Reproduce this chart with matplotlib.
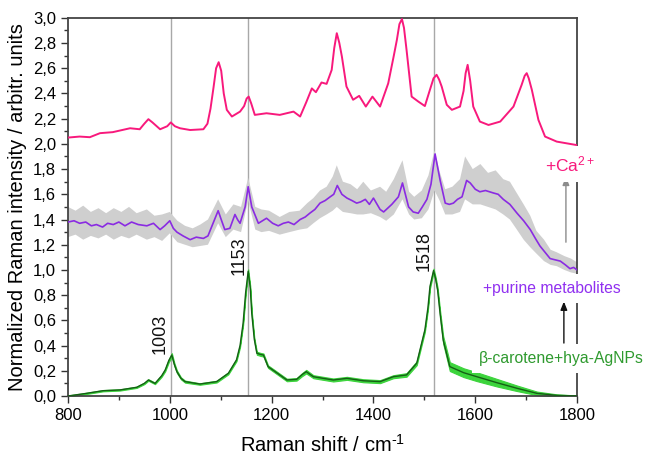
import matplotlib
matplotlib.use("Agg")
import matplotlib.pyplot as plt
from matplotlib.ticker import MultipleLocator, FuncFormatter
import numpy as np

# pink spectrum (+Ca2+)
ca_x = [800, 823, 843, 863, 888, 922, 941, 950, 958, 966, 981, 995, 1002, 1010, 1020,
        1040, 1066, 1074, 1080, 1086, 1091, 1096, 1101, 1106, 1112, 1122, 1138, 1146,
        1151, 1155, 1160, 1167, 1190, 1216, 1243, 1256, 1268, 1279, 1287, 1298, 1308,
        1318, 1323, 1328, 1333, 1338, 1347, 1360, 1372, 1385, 1398, 1413, 1429, 1440,
        1446, 1451, 1456, 1460, 1465, 1475, 1488, 1501, 1511, 1518, 1524, 1529, 1534,
        1544, 1554, 1570, 1577, 1581, 1585, 1590, 1596, 1609, 1626, 1649, 1675, 1691,
        1697, 1701, 1705, 1711, 1724, 1737, 1760, 1800]
ca_y = [2.05, 2.058, 2.053, 2.085, 2.093, 2.124, 2.116, 2.16, 2.196, 2.17, 2.116, 2.14,
        2.17, 2.14, 2.124, 2.11, 2.116, 2.16, 2.28, 2.45, 2.60, 2.648, 2.58, 2.40, 2.27,
        2.217, 2.256, 2.30, 2.36, 2.375, 2.32, 2.23, 2.243, 2.23, 2.256, 2.217, 2.33,
        2.44, 2.41, 2.487, 2.476, 2.587, 2.76, 2.878, 2.80, 2.693, 2.455, 2.35, 2.381,
        2.296, 2.375, 2.296, 2.48, 2.70, 2.825, 2.95, 2.99, 2.92, 2.746, 2.375, 2.336,
        2.30, 2.43, 2.52, 2.548, 2.51, 2.455, 2.31, 2.27, 2.296, 2.42, 2.56, 2.627, 2.50,
        2.296, 2.177, 2.15, 2.177, 2.296, 2.468, 2.54, 2.561, 2.52, 2.43, 2.19, 2.058,
        2.018, 1.99]

# purple spectrum (+purine metabolites), mean and spread
pur_x = [800, 812, 823, 835, 846, 856, 868, 878, 889, 900, 912, 925, 938, 955, 968, 981,
         990, 1000, 1007, 1014, 1026, 1040, 1052, 1066, 1075, 1082, 1095, 1101, 1108,
         1118, 1128, 1133, 1138, 1148, 1154, 1161, 1174, 1182, 1190, 1202, 1213, 1223,
         1233, 1244, 1256, 1266, 1275, 1285, 1295, 1305, 1315, 1322, 1329, 1338, 1348,
         1358, 1367, 1375, 1384, 1392, 1400, 1413, 1420, 1436, 1449, 1457, 1469, 1478,
         1488, 1496, 1505, 1513, 1521, 1531, 1541, 1549, 1557, 1565, 1574, 1583, 1590,
         1600, 1609, 1620, 1636, 1645, 1655, 1668, 1682, 1695, 1708, 1718, 1727, 1737,
         1747, 1757, 1767, 1777, 1786, 1793, 1800]
pur_y = [1.38, 1.39, 1.37, 1.38, 1.35, 1.36, 1.34, 1.37, 1.36, 1.38, 1.35, 1.38, 1.36,
         1.35, 1.37, 1.32, 1.35, 1.39, 1.33, 1.30, 1.27, 1.24, 1.26, 1.25, 1.27, 1.34,
         1.47, 1.40, 1.32, 1.33, 1.44, 1.40, 1.37, 1.50, 1.66, 1.50, 1.37, 1.39, 1.41,
         1.37, 1.35, 1.37, 1.38, 1.36, 1.40, 1.42, 1.45, 1.48, 1.53, 1.55, 1.58, 1.60,
         1.67, 1.60, 1.57, 1.55, 1.53, 1.54, 1.56, 1.52, 1.57, 1.48, 1.46, 1.52, 1.58,
         1.69, 1.50, 1.46, 1.45, 1.50, 1.56, 1.68, 1.92, 1.71, 1.53, 1.52, 1.53, 1.56,
         1.58, 1.71, 1.69, 1.64, 1.62, 1.63, 1.61, 1.60, 1.56, 1.52, 1.45, 1.39, 1.32,
         1.25, 1.19, 1.14, 1.09, 1.08, 1.07, 1.04, 1.01, 1.02, 1.00]
pur_band_x = [800, 815, 830, 845, 860, 875, 890, 905, 920, 935, 955, 970, 985, 1000,
              1015, 1030, 1045, 1060, 1075, 1095, 1110, 1125, 1140, 1154, 1168, 1180,
              1195, 1216, 1235, 1255, 1270, 1282, 1295, 1308, 1320, 1328, 1340, 1355,
              1368, 1380, 1395, 1413, 1425, 1440, 1457, 1470, 1480, 1495, 1508, 1520,
              1530, 1541, 1555, 1570, 1580, 1595, 1610, 1625, 1640, 1655, 1668, 1680,
              1695, 1708, 1720, 1735, 1748, 1760, 1775, 1788, 1800]
pur_hi = [1.50, 1.47, 1.51, 1.46, 1.49, 1.45, 1.49, 1.46, 1.50, 1.45, 1.48, 1.43, 1.44,
          1.46, 1.39, 1.35, 1.33, 1.36, 1.40, 1.56, 1.44, 1.52, 1.50, 1.73, 1.50, 1.48,
          1.47, 1.42, 1.46, 1.47, 1.53, 1.57, 1.63, 1.66, 1.74, 1.83, 1.70, 1.68, 1.64,
          1.70, 1.63, 1.66, 1.62, 1.72, 1.87, 1.62, 1.58, 1.63, 1.75, 1.95, 1.78, 1.64,
          1.66, 1.72, 1.90, 1.80, 1.84, 1.77, 1.79, 1.72, 1.70, 1.62, 1.52, 1.43, 1.31,
          1.24, 1.16, 1.14, 1.11, 1.09, 1.06]
pur_lo = [1.26, 1.28, 1.24, 1.27, 1.25, 1.28, 1.24, 1.27, 1.25, 1.28, 1.24, 1.26, 1.23,
          1.29, 1.22, 1.20, 1.18, 1.19, 1.20, 1.37, 1.26, 1.32, 1.30, 1.55, 1.32, 1.30,
          1.31, 1.28, 1.30, 1.32, 1.33, 1.37, 1.41, 1.44, 1.47, 1.50, 1.46, 1.45, 1.44,
          1.44, 1.45, 1.42, 1.39, 1.44, 1.56, 1.44, 1.40, 1.41, 1.48, 1.63, 1.55, 1.44,
          1.44, 1.46, 1.56, 1.52, 1.52, 1.50, 1.48, 1.44, 1.40, 1.33, 1.24, 1.18, 1.13,
          1.07, 1.04, 1.03, 1.00, 0.98, 0.97]

# green spectrum (beta-carotene + hya-AgNPs), mean and half spread
bc_x = [800, 835, 869, 902, 935, 950, 958, 971, 984, 991, 998, 1004, 1009, 1014, 1022,
        1030, 1059, 1092, 1115, 1131, 1138, 1144, 1149, 1154, 1158, 1161, 1166, 1171,
        1178, 1184, 1193, 1207, 1230, 1249, 1260, 1268, 1282, 1321, 1348, 1380, 1413,
        1439, 1465, 1485, 1501, 1507, 1511, 1518, 1522, 1526, 1531, 1537, 1550, 1577,
        1603, 1642, 1682, 1721, 1760, 1800]
bc_y = [0.0, 0.02, 0.042, 0.048, 0.069, 0.10, 0.127, 0.10, 0.16, 0.206, 0.28, 0.325,
        0.25, 0.193, 0.14, 0.114, 0.095, 0.114, 0.18, 0.286, 0.40, 0.577, 0.82, 0.99,
        0.86, 0.656, 0.45, 0.339, 0.33, 0.325, 0.233, 0.193, 0.127, 0.132, 0.17, 0.193,
        0.153, 0.127, 0.14, 0.121, 0.114, 0.153, 0.167, 0.26, 0.524, 0.70, 0.868, 0.995,
        0.93, 0.841, 0.65, 0.444, 0.233, 0.185, 0.153, 0.106, 0.061, 0.021, 0.005, 0.0]
bc_err = [0.004, 0.005, 0.005, 0.005, 0.005, 0.006, 0.006, 0.006, 0.008, 0.01, 0.012,
          0.015, 0.012, 0.01, 0.008, 0.008, 0.006, 0.007, 0.008, 0.01, 0.012, 0.015,
          0.015, 0.015, 0.015, 0.015, 0.012, 0.012, 0.012, 0.012, 0.01, 0.01, 0.01,
          0.01, 0.012, 0.014, 0.012, 0.012, 0.012, 0.012, 0.012, 0.012, 0.014, 0.015,
          0.015, 0.015, 0.015, 0.015, 0.015, 0.018, 0.022, 0.03, 0.035, 0.035, 0.035,
          0.03, 0.022, 0.014, 0.008, 0.004]

# marked bands
peaks = [1003, 1153, 1518]
peak_labels = ["1003", "1153", "1518"]
label_pos = [(982, 0.49), (1137, 1.11), (1500, 1.15)]

plt.rcParams["font.family"] = ["Liberation Sans", "DejaVu Sans"]
plt.rcParams["mathtext.fontset"] = "custom"
plt.rcParams["mathtext.rm"] = "Liberation Sans"
plt.rcParams["mathtext.it"] = "Liberation Sans:italic"
plt.rcParams["mathtext.default"] = "regular"

fig = plt.figure(figsize=(6.47, 4.57), dpi=100)
ax = fig.add_axes([0.105, 0.1335, 0.787, 0.8275])

for p in peaks:
    ax.axvline(p, color="#a8a8a8", lw=1.0, zorder=1)

# +Ca2+
ax.plot(ca_x, ca_y, color="#f8197c", lw=1.4, zorder=3)

# +purine metabolites
ax.fill(np.concatenate([pur_band_x, pur_band_x[::-1]]),
        np.concatenate([pur_hi, pur_lo[::-1]]),
        color="#cfcfcf", lw=0, zorder=2)
ax.plot(pur_x, pur_y, color="#8a2be2", lw=1.2, zorder=3)

# beta-carotene
bc_y_arr = np.array(bc_y)
bc_err_arr = np.array(bc_err)
ax.fill_between(bc_x, bc_y_arr - bc_err_arr, bc_y_arr + bc_err_arr,
                color="#3cd43c", lw=0.8, edgecolor="#3cd43c", zorder=2)
ax.plot(bc_x, bc_y, color="#155f15", lw=1.0, zorder=3)

for (xp, yp), lab in zip(label_pos, peak_labels):
    ax.text(xp, yp, lab, rotation=90, ha="center", va="center", fontsize=13,
            color="#111111")

# sample labels and arrows
box = dict(boxstyle="square,pad=0.45", fc="white", ec="none")
ax.text(1786, 1.84, r"+Ca$^{2+}$", color="#f8197c", fontsize=12.5,
        ha="center", va="center", bbox=box, zorder=5, clip_on=False)
ax.text(1751, 0.85, "+purine metabolites", color="#9030f0", fontsize=11.3,
        ha="center", va="center", bbox=box, zorder=5, clip_on=False)
ax.text(1769, 0.30, "β-carotene+hya-AgNPs", color="#2f9a2f", fontsize=11.3,
        ha="center", va="center", bbox=box, zorder=5, clip_on=False)
ax.annotate("", xy=(1778, 1.74), xytext=(1778, 1.22),
            arrowprops=dict(arrowstyle="-|>,head_length=0.5,head_width=0.2",
                            color="#8c8c8c", lw=1.0, shrinkA=0, shrinkB=0))
ax.annotate("", xy=(1774, 0.75), xytext=(1774, 0.42),
            arrowprops=dict(arrowstyle="-|>,head_length=0.5,head_width=0.2",
                            color="#111111", lw=1.0, shrinkA=0, shrinkB=0))

ax.set_xlim(800, 1800)
ax.set_ylim(0, 3.0)
ax.xaxis.set_major_locator(MultipleLocator(200))
ax.xaxis.set_minor_locator(MultipleLocator(100))
ax.yaxis.set_major_locator(MultipleLocator(0.2))
ax.yaxis.set_minor_locator(MultipleLocator(0.1))
ax.yaxis.set_major_formatter(FuncFormatter(lambda v, _: f"{v:.1f}".replace(".", ",")))
ax.tick_params(which="both", direction="out", color="#333333", width=1.0,
               labelsize=12, top=False, right=False)
ax.tick_params(which="major", length=5)
ax.tick_params(which="minor", length=3)
for s in ax.spines.values():
    s.set_color("#444444")
    s.set_linewidth(1.3)

ax.set_xlabel("Raman shift / cm$^{\\text{-}1}$", fontsize=14.5, labelpad=8)
ax.set_ylabel("Normalized Raman intensity / arbitr. units", fontsize=14.5, labelpad=4)

fig.savefig("out.png", dpi=100)
